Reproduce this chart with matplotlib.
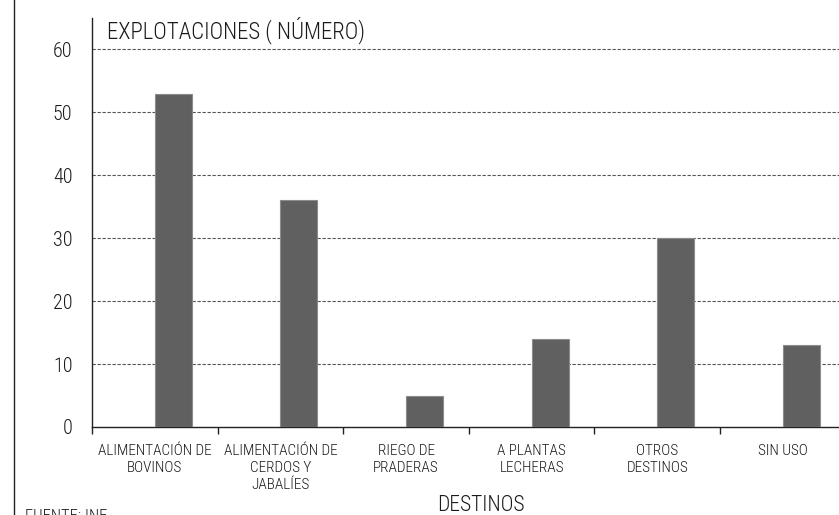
import matplotlib
matplotlib.use("Agg")
import matplotlib.pyplot as plt
from matplotlib.lines import Line2D

plt.rcParams['font.family'] = ['Roboto Condensed', 'DejaVu Sans']
plt.rcParams['font.weight'] = 'light'

categories = ["ALIMENTACIÓN DE\nBOVINOS", "ALIMENTACIÓN DE\nCERDOS Y\nJABALÍES",
              "RIEGO DE\nPRADERAS", "A PLANTAS\nLECHERAS", "OTROS\nDESTINOS", "SIN USO"]
values = [53, 36, 5, 14, 30, 13]
yticks = [0, 10, 20, 30, 40, 50, 60]

W, H = 839, 515
fig = plt.figure(figsize=(W / 100, H / 100), dpi=100)
left, bottom, top, right = 92, 427, 18, 845.6
ax = fig.add_axes([left / W, 1 - bottom / H, (right - left) / W, (bottom - top) / H])

n = len(categories)
centers = [i + 0.5 for i in range(n)]
ax.bar(centers, values, width=0.295, align='edge', color='#606060',
       edgecolor='#8c8c8c', linewidth=0.8, zorder=3)

ax.set_xlim(0, n)
ax.set_ylim(0, 65)
ax.set_yticks(yticks)
ax.set_yticklabels([str(v) for v in yticks], fontsize=14.5, color='#1a1a1a')
ax.tick_params(axis='y', length=0, pad=14)

ax.set_xticks(range(n + 1))
ax.set_xticklabels([''] * (n + 1))
ax.tick_params(axis='x', which='major', length=5, width=1, color='#222222', direction='out')
ax.set_xticks(centers, minor=True)
ax.set_xticklabels(categories, minor=True, fontsize=11, color='#1a1a1a', linespacing=1.3)
ax.tick_params(axis='x', which='minor', length=0, pad=12)

for v in yticks[1:]:
    ax.axhline(v, color='#555555', linestyle=(0, (3, 1.5)), linewidth=0.8, zorder=1)

for s in ['top', 'right']:
    ax.spines[s].set_visible(False)
for s in ['left', 'bottom']:
    ax.spines[s].set_color('#222222')
    ax.spines[s].set_linewidth(1.0)

fig.text(107 / W, 1 - 16 / H, "EXPLOTACIONES ( NÚMERO)", fontsize=16.5,
         color='#1a1a1a', ha='left', va='top')
fig.text(481 / W, 1 - 495 / H, "DESTINOS", fontsize=15.5, color='#1a1a1a',
         ha='center', va='top')
fig.text(25 / W, 1 - 509 / H, "FUENTE: INE", fontsize=12, color='#1a1a1a',
         ha='left', va='top')

fig.add_artist(Line2D([14 / W, 14 / W], [0, 1], transform=fig.transFigure,
                      color='#222222', linewidth=1.0))

fig.savefig("out.png", dpi=100)
